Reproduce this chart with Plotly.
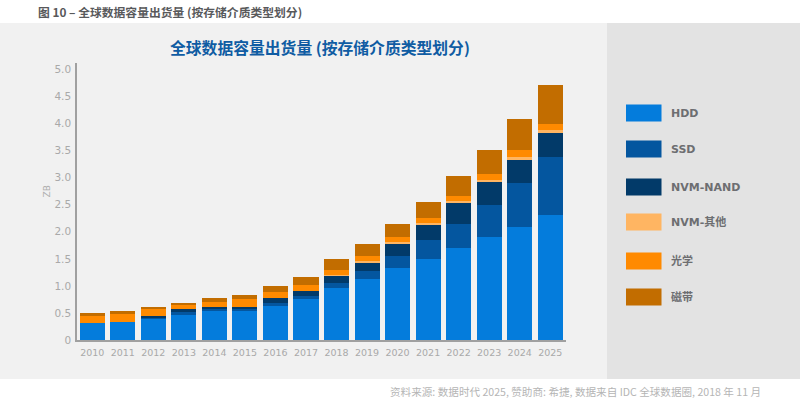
import plotly.graph_objects as go

years = [str(y) for y in range(2010, 2026)]
hdd = [.31,.34,.41,.487,.56,.56,.653,.758,.961,1.128,1.325,1.49,1.707,1.91,2.095,2.317]
ssd = [0,0,.01,.033,.03,.03,.031,.055,.093,.147,.221,.365,.443,.585,.805,1.059]
nvm_nand = [0,0,.03,.053,.02,.02,.092,.093,.141,.173,.254,.289,.40,.438,.452,.469]
nvm_other = [0,0,0,0,0,0,0,0,.006,.006,.012,.012,.012,.018,.03,.036]
optical = [.14,.16,.12,.074,.09,.148,.111,.111,.093,.092,.098,.099,.098,.111,.124,.112]
tape = [.05,.035,.04,.037,.076,.072,.111,.148,.197,.222,.24,.295,.365,.444,.584,.714]

series = [("HDD", hdd, "#047cdc"), ("SSD", ssd, "#04569f"), ("NVM-NAND", nvm_nand, "#023a69"),
          ("NVM-其他", nvm_other, "#ffb562"), ("光学", optical, "#ff8a00"), ("磁带", tape, "#c26d00")]
yticks = [0,.5,1,1.5,2,2.5,3,3.5,4,4.5,5]
yticklabels = ["0","0.5","1.0","1.5","2.0","2.5","3.0","3.5","4.0","4.5","5.0"]
CJK = "Noto Sans CJK SC"
LAT = "DejaVu Sans, Noto Sans CJK SC"
W, H = 800, 404

fig = go.Figure()
for name, vals, col in series:
    fig.add_bar(x=years, y=vals, name=name, marker=dict(color=col, line=dict(width=0)), showlegend=False)

def px(x): return x / W
def py(y): return 1 - y / H

shapes = [
    dict(type="rect", xref="paper", yref="paper", x0=0, x1=px(607), y0=py(379), y1=py(23),
         fillcolor="#f1f1f1", line_width=0, layer="below"),
    dict(type="rect", xref="paper", yref="paper", x0=px(607), x1=1, y0=py(379), y1=py(23),
         fillcolor="#e3e3e3", line_width=0, layer="below"),
]
ann = [
    dict(text="<b>图 10 – 全球数据容量出货量 (按存储介质类型划分)</b>", x=px(36), y=py(11), xanchor="left", yanchor="middle",
         font=dict(family=CJK, size=11.8, color="#58595b")),
    dict(text="<b>全球数据容量出货量 (按存储介质类型划分)</b>", x=px(319.5), y=py(47), xanchor="center", yanchor="middle",
         font=dict(family=CJK, size=15.8, color="#0f5ca3")),
    dict(text="ZB", x=px(46.5), y=py(192), textangle=-90, xanchor="center", yanchor="middle",
         font=dict(family=LAT, size=9, color="#aeaeae")),
    dict(text="资料来源: 数据时代 2025, 赞助商: 希捷, 数据来自 IDC 全球数据圈, 2018 年 11 月", x=px(388), y=py(391), xanchor="left", yanchor="middle",
         font=dict(family=CJK, size=10.6, color="#b5b5b5")),
]
rows = [113, 149, 187, 222, 261, 297]
for (name, vals, col), yc in zip(series, rows):
    shapes.append(dict(type="rect", xref="paper", yref="paper", x0=px(626), x1=px(661.5), y0=py(yc+8.5), y1=py(yc-8.5),
                       fillcolor=col, line_width=0))
    ann.append(dict(text="<b>%s</b>" % name, x=px(669), y=py(yc), xanchor="left", yanchor="middle",
                    font=dict(family=LAT, size=11, color="#6d6e71")))
for a in ann:
    a.update(xref="paper", yref="paper", showarrow=False)

fig.update_layout(
    width=W, height=H, barmode="stack", bargap=0.18, paper_bgcolor="white", plot_bgcolor="#f1f1f1",
    margin=dict(l=0, r=0, t=0, b=0, pad=0, autoexpand=False), shapes=shapes, annotations=ann, showlegend=False,
    xaxis=dict(domain=[px(77), px(565.5)], range=[-0.5, 15.5], type="category", tickfont=dict(family=LAT, size=9.5, color="#a9a9a9"),
               tickangle=0, automargin=False, showgrid=False, showline=True, linecolor="#a0a0a0", linewidth=1.5, ticks="", ticklabelstandoff=3),
    yaxis=dict(domain=[py(340), py(62.5)], range=[0, 5.13], tickvals=yticks, ticktext=yticklabels, automargin=False,
               tickfont=dict(family=LAT, size=10.5, color="#a9a9a9"), showgrid=False, zeroline=False,
               showline=True, linecolor="#a0a0a0", linewidth=1.5, ticks="", ticklabelstandoff=2),
)
fig.write_html("out.html", config=dict(displayModeBar=False),
               post_script="document.body.style.margin='0';document.documentElement.style.overflow='hidden';")
